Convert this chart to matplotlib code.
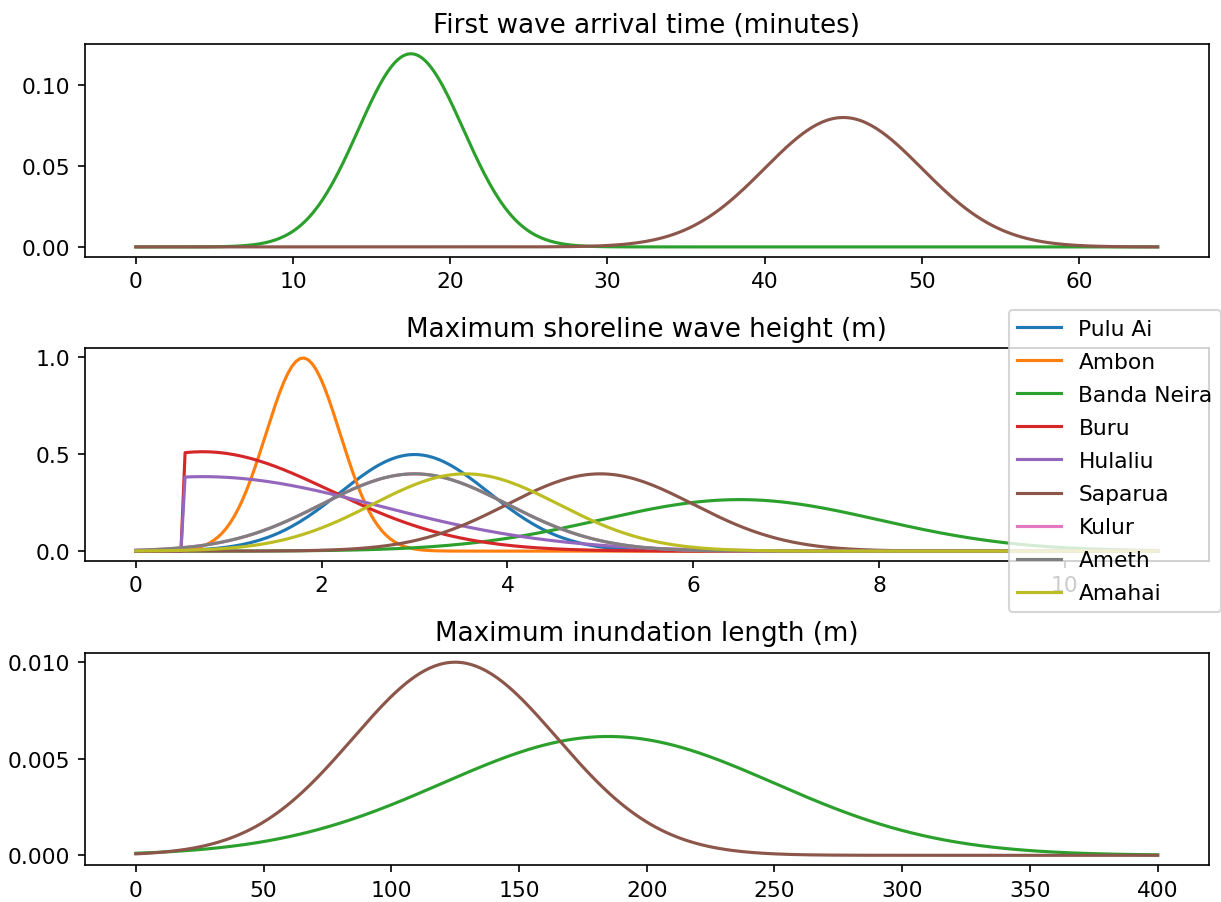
import math
import numpy as np
import matplotlib
matplotlib.use("Agg")
import matplotlib.pyplot as plt
from matplotlib.ticker import FormatStrFormatter

# ---- data (distribution parameters) ----
locations = ["Pulu Ai", "Ambon", "Banda Neira", "Buru", "Hulaliu",
             "Saparua", "Kulur", "Ameth", "Amahai"]
colors = ["C0", "C1", "C2", "C3", "C4", "C5", "C6", "C7", "C8"]

# Panel 1: first wave arrival time (minutes) -- only Banda Neira and Saparua
arrival_names = ["Banda Neira", "Saparua"]
arrival_mean = [17.5, 45.0]
arrival_sd = [3.35, 5.0]
arrival_xmax = 65
arrival_yticks = [0.00, 0.05, 0.10]

# Panel 2: maximum shoreline wave height (m)
height_mean = [3.0, 1.8, 6.5, 0.72, 0.72, 5.0, 3.0, 3.0, 3.55]
height_sd = [0.8, 0.4, 1.5, 1.38, 1.9, 1.0, 1.0, 1.0, 1.0]
height_lower = [None, None, None, 0.5, 0.5, None, None, None, None]
height_xmax = 11
height_yticks = [0.0, 0.5, 1.0]

# Panel 3: maximum inundation length (m)
inund_names = ["Banda Neira", "Saparua"]
inund_mean = [185.0, 125.0]
inund_sd = [65.0, 40.0]
inund_xmax = 400
inund_yticks = [0.000, 0.005, 0.010]


def pdf(x, m, s, lower=None):
    y = np.exp(-0.5 * ((x - m) / s) ** 2) / (s * math.sqrt(2 * math.pi))
    if lower is not None:
        z = (lower - m) / s
        tail = 1 - 0.5 * (1 + math.erf(z / math.sqrt(2)))
        y = np.where(x >= lower, y / tail, 0.0)
    return y


plt.rcParams["font.size"] = 10.45

fig, axes = plt.subplots(3, 1, figsize=(8.14, 6.02), dpi=150)
fig.subplots_adjust(left=0.0694, right=0.990, top=0.950, bottom=0.041, hspace=0.432)

ax = axes[0]
x = np.linspace(0, arrival_xmax, 400)
for name, m, s in zip(arrival_names, arrival_mean, arrival_sd):
    ax.plot(x, pdf(x, m, s), color=colors[locations.index(name)], label=name)
ax.set_title("First wave arrival time (minutes)")
ax.set_yticks(arrival_yticks)
ax.yaxis.set_major_formatter(FormatStrFormatter("%.2f"))

ax = axes[1]
x = np.linspace(0, height_xmax, 250)
for name, m, s, lo, c in zip(locations, height_mean, height_sd, height_lower, colors):
    ax.plot(x, pdf(x, m, s, lo), color=c, label=name)
ax.set_title("Maximum shoreline wave height (m)")
ax.set_yticks(height_yticks)
ax.yaxis.set_major_formatter(FormatStrFormatter("%.1f"))
ax.legend(loc="upper left", bbox_to_anchor=(0.822, 1.18), borderaxespad=0,
          labelspacing=0.6)

ax = axes[2]
x = np.linspace(0, inund_xmax, 400)
for name, m, s in zip(inund_names, inund_mean, inund_sd):
    ax.plot(x, pdf(x, m, s), color=colors[locations.index(name)], label=name)
ax.set_title("Maximum inundation length (m)")
ax.set_yticks(inund_yticks)
ax.yaxis.set_major_formatter(FormatStrFormatter("%.3f"))

fig.savefig("out.png", dpi=150)
